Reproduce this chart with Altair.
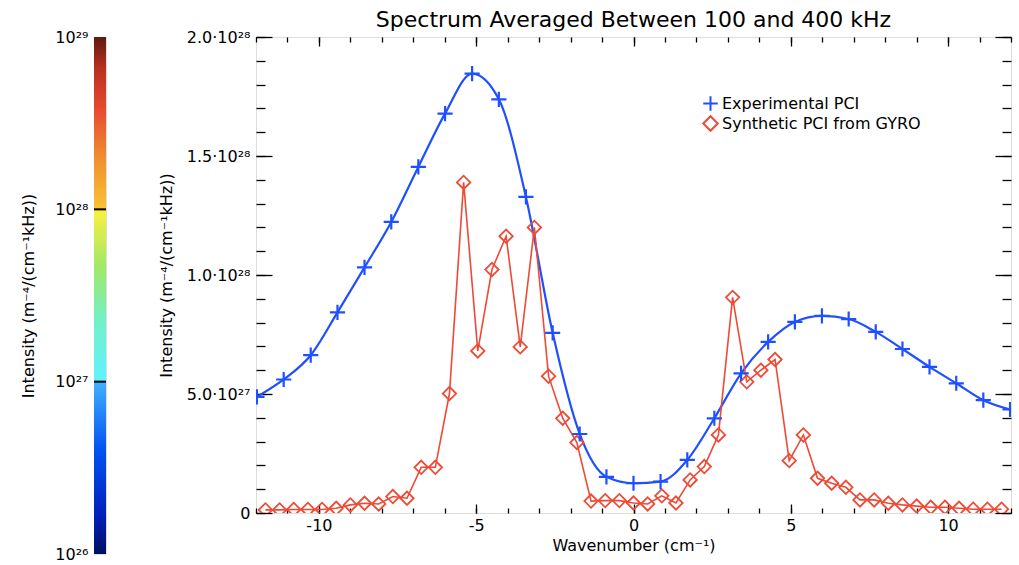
import altair as alt
import pandas as pd

# ---------------- data ----------------
# Experimental PCI (blue crosses): wavenumber (cm^-1) and intensity in units of 1e28
exp_k = [-11.97, -11.12, -10.26, -9.41, -8.55, -7.70, -6.84, -5.99, -5.13, -4.28,
         -3.42, -2.57, -1.71, -0.86, 0.0, 0.86, 1.71, 2.57, 3.42, 4.28,
         5.13, 5.99, 6.84, 7.70, 8.55, 9.41, 10.26, 11.12, 11.97]
exp_i = [0.488, 0.561, 0.663, 0.843, 1.032, 1.223, 1.454, 1.678, 1.846, 1.738,
         1.328, 0.757, 0.332, 0.152, 0.125, 0.132, 0.223, 0.398, 0.587, 0.719,
         0.803, 0.828, 0.815, 0.761, 0.689, 0.614, 0.545, 0.474, 0.435]

# Synthetic PCI from GYRO (red diamonds)
syn_k = [-11.70, -11.25, -10.80, -10.35, -9.90, -9.45, -9.00, -8.55, -8.10, -7.65,
         -7.20, -6.75, -6.30, -5.85, -5.40, -4.95, -4.50, -4.05, -3.60, -3.15,
         -2.70, -2.25, -1.80, -1.35, -0.90, -0.45, 0.00, 0.45, 0.90, 1.35,
         1.80, 2.25, 2.70, 3.15, 3.60, 4.05, 4.50, 4.95, 5.40, 5.85,
         6.30, 6.75, 7.20, 7.65, 8.10, 8.55, 9.00, 9.45, 9.90, 10.35,
         10.80, 11.25, 11.70]
syn_i = [0.013, 0.013, 0.015, 0.015, 0.015, 0.020, 0.034, 0.041, 0.038, 0.069,
         0.062, 0.192, 0.192, 0.502, 1.389, 0.681, 1.023, 1.163, 0.698, 1.200,
         0.575, 0.398, 0.296, 0.050, 0.052, 0.052, 0.042, 0.038, 0.072, 0.042,
         0.139, 0.195, 0.328, 0.906, 0.551, 0.600, 0.645, 0.220, 0.328, 0.146,
         0.125, 0.108, 0.055, 0.055, 0.041, 0.034, 0.029, 0.024, 0.024, 0.020,
         0.016, 0.016, 0.016]

series_names = ["Experimental PCI", "Synthetic PCI from GYRO"]

# axis ticks / labels
x_major = [-10, -5, 0, 5, 10]
x_major_labels = ["-10", "-5", "0", "5", "10"]
x_minor = list(range(-12, 13))
y_major = [0.0, 0.5, 1.0, 1.5, 2.0]
y_major_labels = ["0", "5.0·10²⁷", "1.0·10²⁸", "1.5·10²⁸", "2.0·10²⁸"]
y_minor = [round(0.1 * i, 1) for i in range(21)]

# colour bar
cb_ticks = [1e26, 1e27, 1e28, 1e29]
cb_labels = ["10²⁶", "10²⁷", "10²⁸", "10²⁹"]
cb_dividers = [1e27, 1e28]
cb_extent_lo = [1e26]
cb_extent_hi = [1e29]

BLUE = "#1e50ff"
RED = "#ee4a36"
FONT = "DejaVu Sans"
TITLE_TEXT = "Intensity (m⁻⁴/(cm⁻¹kHz))"


def label_expr(vals, labels):
    expr = "''"
    for v, l in reversed(list(zip(vals, labels))):
        expr = f"datum.value == {v!r} ? '{l}' : ({expr})"
    return expr


exp_df = pd.DataFrame({"k": exp_k, "I": exp_i, "series": series_names[0]})
syn_df = pd.DataFrame({"k": syn_k, "I": syn_i, "series": series_names[1]})

W, H = 755, 476


def xs():
    return alt.Scale(domain=[-12, 12], nice=False, zero=False)


def ys():
    return alt.Scale(domain=[0, 2.0], nice=False, zero=False)


def ax(orient, values, size, labels=False, lexpr=None, title=None, **kw):
    d = dict(orient=orient, values=values, tickSize=size, offset=-size, domain=False,
             grid=False, ticks=True, tickColor="black", tickWidth=1.3, labels=labels,
             title=title)
    if lexpr is not None:
        d["labelExpr"] = lexpr
    d.update(kw)
    return alt.Axis(**d)


common_lbl = dict(labelFont=FONT, labelFontSize=16, labelColor="black",
                  titleFont=FONT, titleFontSize=16, titleFontWeight="normal",
                  titleColor="black")

blue_line = alt.Chart(exp_df).mark_line(color=BLUE, strokeWidth=2.2, interpolate="monotone", clip=True).encode(
    x=alt.X("k:Q", scale=xs(),
            axis=ax("bottom", x_major, 9, labels=True,
                    lexpr=label_expr(x_major, x_major_labels),
                    title="Wavenumber (cm⁻¹)", labelPadding=4, titlePadding=4,
                    **common_lbl)),
    y=alt.Y("I:Q", scale=ys(),
            axis=ax("left", y_major, 16, labels=True,
                    lexpr=label_expr(y_major, y_major_labels),
                    title=TITLE_TEXT, labelPadding=6, titlePadding=12,
                    **common_lbl)),
)

red_line = alt.Chart(syn_df).mark_line(color=RED, strokeWidth=1.6, clip=True).encode(
    x=alt.X("k:Q", scale=xs(), axis=ax("top", x_major, 9)),
    y=alt.Y("I:Q", scale=ys(), axis=ax("right", y_major, 16)),
)

color_scale = alt.Scale(domain=series_names, range=[BLUE, RED])
shape_scale = alt.Scale(domain=series_names, range=["M-1,0L1,0M0,-1L0,1", "diamond"])
legend = alt.Legend(orient="none", legendX=608, legendY=58, title=None,
                    labelFont=FONT, labelFontSize=16, labelColor="black", labelLimit=400,
                    rowPadding=-10, padding=0, symbolSize=210, symbolStrokeWidth=2,
                    labelOffset=3)

red_pts = alt.Chart(syn_df).mark_point(filled=False, size=180, strokeWidth=1.8, opacity=1, clip=True).encode(
    x=alt.X("k:Q", scale=xs(), axis=ax("top", x_minor, 5)),
    y=alt.Y("I:Q", scale=ys(), axis=ax("right", y_minor, 9)),
    color=alt.Color("series:N", scale=color_scale, legend=legend),
    shape=alt.Shape("series:N", scale=shape_scale, legend=legend),
)

blue_pts = alt.Chart(exp_df).mark_point(filled=False, size=230, strokeWidth=2.2, opacity=1, clip=True).encode(
    x=alt.X("k:Q", scale=xs(), axis=ax("bottom", x_minor, 5)),
    y=alt.Y("I:Q", scale=ys(), axis=ax("left", y_minor, 9)),
    color=alt.Color("series:N", scale=color_scale, legend=legend),
    shape=alt.Shape("series:N", scale=shape_scale, legend=legend),
)

main = alt.layer(blue_line, red_line, red_pts, blue_pts).resolve_scale(
    x="independent", y="independent"
).resolve_axis(x="independent", y="independent").properties(
    width=W, height=H,
    title=alt.TitleParams("Spectrum Averaged Between 100 and 400 kHz", font=FONT,
                          fontSize=22, fontWeight="normal", color="black",
                          anchor="middle", offset=-3),
)

# ---------------- colour bar ----------------
cb_df = pd.DataFrame({"lo": cb_extent_lo, "hi": cb_extent_hi})
div_df = pd.DataFrame({"v": cb_dividers})
cb_scale = alt.Scale(type="log", domain=[cb_extent_lo[0], cb_extent_hi[0]], nice=False)

stops = [
    (0.00, "#001060"), (0.08, "#0022c0"), (0.20, "#0052f2"), (0.332, "#42b0ff"),
    (0.336, "#62f2ff"), (0.45, "#72f0c8"), (0.56, "#a4e864"), (0.662, "#f8f040"),
    (0.668, "#f8c232"), (0.76, "#f09232"), (0.86, "#e84a30"), (0.94, "#b83020"),
    (1.00, "#601810"),
]
grad = alt.LinearGradient(gradient="linear", x1=0, x2=0, y1=1, y2=0,
                          stops=[alt.GradientStop(offset=o, color=c) for o, c in stops])

cb_bar = alt.Chart(cb_df).mark_rect(color=grad).encode(
    y=alt.Y("lo:Q", scale=cb_scale,
            axis=alt.Axis(orient="left", values=cb_ticks, labelExpr=label_expr(cb_ticks, cb_labels),
                          ticks=False, domain=False, grid=False, labelPadding=6,
                          title=TITLE_TEXT, titlePadding=18, **common_lbl)),
    y2="hi:Q",
)
cb_div = alt.Chart(div_df).mark_rule(color="black", strokeWidth=2).encode(
    y=alt.Y("v:Q", scale=cb_scale),
)
colorbar = alt.layer(cb_bar, cb_div).properties(width=12, height=517)

chart = alt.hconcat(colorbar, main, spacing=150, bounds="flush").configure_view(
    stroke="black", strokeWidth=1.5
).configure(
    font=FONT, padding={"left": 20, "top": 8, "right": 5, "bottom": 5},
    background="white",
)

chart.save("out.html", embed_options={"renderer": "svg", "actions": False})
